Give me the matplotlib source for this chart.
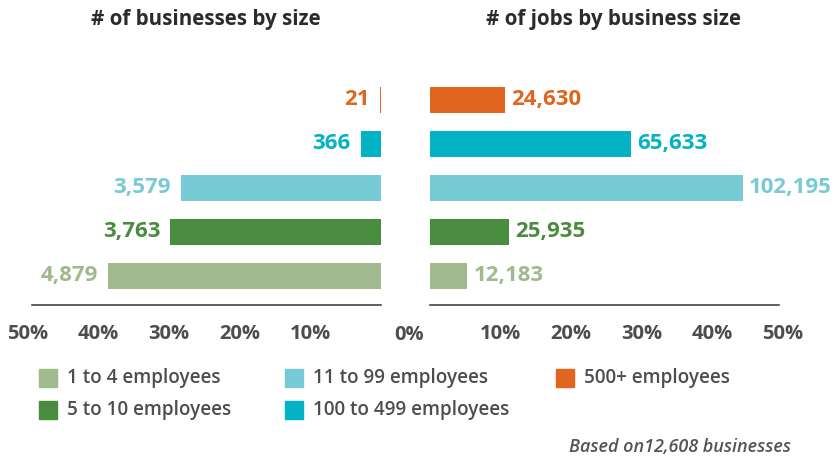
import matplotlib
matplotlib.use("Agg")
import matplotlib.pyplot as plt

plt.rcParams['font.family'] = ['Open Sans', 'DejaVu Sans']

categories = ["1 to 4 employees", "5 to 10 employees", "11 to 99 employees",
              "100 to 499 employees", "500+ employees"]
businesses = [4879, 3763, 3579, 366, 21]
jobs = [12183, 25935, 102195, 65633, 24630]
colors = ["#a0b98d", "#4a8c3f", "#77cad6", "#03b2c5", "#e0651e"]
left_ticks = [50, 40, 30, 20, 10]
right_ticks = [10, 20, 30, 40, 50]

total_b = sum(businesses)
total_j = sum(jobs)
pct_b = [v / total_b * 100 for v in businesses]
pct_j = [v / total_j * 100 for v in jobs]

fig = plt.figure(figsize=(8.36, 4.61), dpi=100)
W = 353
axL = fig.add_axes([(381-W)/836, 1-305/461, W/836, 227/461])
axR = fig.add_axes([430/836, 1-305/461, W/836, 227/461])

ypos = list(range(len(categories)))
tick_color = "#4d4d4d"

for ax, pcts, vals, side in ((axL, pct_b, businesses, 'L'), (axR, pct_j, jobs, 'R')):
    ax.barh(ypos, pcts, height=0.6, color=colors)
    ax.set_xlim(0, 50)
    ax.set_ylim(-0.66, 4.5)
    for s in ('top', 'left', 'right'):
        ax.spines[s].set_visible(False)
    ax.spines['bottom'].set_color('#333333')
    ax.spines['bottom'].set_linewidth(1.1)
    ax.spines['bottom'].set_bounds(0, 49.45)
    ax.set_yticks([])
    ax.tick_params(axis='x', length=0, pad=14, labelsize=14.5, labelcolor=tick_color)
    for y, p, v, c in zip(ypos, pcts, vals, colors):
        if side == 'L':
            ax.annotate(f"{v:,}", (p, y), xytext=(-7, 0), textcoords='offset points',
                        ha='right', va='center', color=c, fontsize=16, fontweight='bold')
        else:
            ax.annotate(f"{v:,}", (p, y), xytext=(4.5, 0), textcoords='offset points',
                        ha='left', va='center', color=c, fontsize=16, fontweight='bold')

axL.invert_xaxis()
axL.set_xticks(left_ticks)
axL.set_xticklabels([f"{t}%" for t in left_ticks], fontweight='bold')
axR.set_xticks(right_ticks)
axR.set_xticklabels([f"{t}%" for t in right_ticks], fontweight='bold')

fig.text(409/836, 1-335/461, "0%", ha='center', va='center', fontsize=14.5,
         fontweight='bold', color=tick_color)

fig.text(206/836, 1-19/461, "# of businesses by size", ha='center', va='center',
         fontsize=14.8, fontweight='bold', color='#2b2b2b')
fig.text(614/836, 1-19/461, "# of jobs by business size", ha='center', va='center',
         fontsize=14.8, fontweight='bold', color='#2b2b2b')

# legend
leg_pos = [(39, 378), (39, 410), (285, 378), (285, 410), (556, 378)]
for (lx, ly), cat, c in zip(leg_pos, categories, colors):
    fig.patches.append(plt.Rectangle((lx/836, 1-(ly+9)/461), 18/836, 18/461,
                                     transform=fig.transFigure, color=c))
    fig.text((lx+28)/836, 1-ly/461, cat, ha='left', va='center', fontsize=13.6,
             fontweight='semibold', color=tick_color)

fig.text(791/836, 1-447/461, f"Based on{total_b:,} businesses", ha='right', va='center',
         fontsize=13, fontstyle='italic', fontweight='semibold', color='#555555')

fig.savefig("out.png", dpi=100)
